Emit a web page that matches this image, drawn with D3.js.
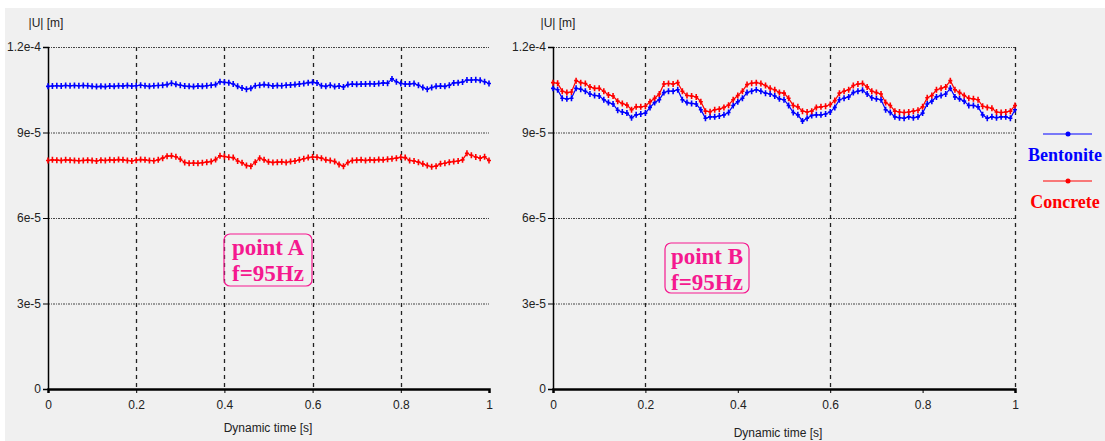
<!DOCTYPE html>
<html><head><meta charset="utf-8">
<script src="https://cdn.jsdelivr.net/npm/d3@7"></script>
<style>
html,body{margin:0;padding:0;background:#fff;}
svg{display:block;}
</style></head>
<body>
<svg id="chart" width="1105" height="441"></svg>
<script>
// time samples [s]
const time = [0.00,0.01,0.02,0.03,0.04,0.05,0.06,0.07,0.08,0.09,0.10,0.11,0.12,0.13,0.14,0.15,0.16,0.17,0.18,0.19,
0.20,0.21,0.22,0.23,0.24,0.25,0.26,0.27,0.28,0.29,0.30,0.31,0.32,0.33,0.34,0.35,0.36,0.37,0.38,0.39,
0.40,0.41,0.42,0.43,0.44,0.45,0.46,0.47,0.48,0.49,0.50,0.51,0.52,0.53,0.54,0.55,0.56,0.57,0.58,0.59,
0.60,0.61,0.62,0.63,0.64,0.65,0.66,0.67,0.68,0.69,0.70,0.71,0.72,0.73,0.74,0.75,0.76,0.77,0.78,0.79,
0.80,0.81,0.82,0.83,0.84,0.85,0.86,0.87,0.88,0.89,0.90,0.91,0.92,0.93,0.94,0.95,0.96,0.97,0.98,0.99,1.00];

// |U| values in units of 1e-5 m
const bentoniteA = [10.62,10.63,10.64,10.63,10.65,10.64,10.65,10.64,10.65,10.64,10.62,10.61,10.62,10.61,10.63,10.62,10.64,10.63,10.65,10.63,
10.64,10.66,10.64,10.62,10.64,10.65,10.66,10.68,10.73,10.69,10.66,10.63,10.62,10.61,10.63,10.62,10.64,10.66,10.68,10.78,
10.76,10.75,10.70,10.62,10.56,10.52,10.55,10.64,10.66,10.68,10.66,10.63,10.65,10.64,10.66,10.67,10.68,10.70,10.72,10.75,
10.76,10.74,10.64,10.62,10.66,10.61,10.63,10.60,10.68,10.70,10.69,10.70,10.70,10.71,10.70,10.72,10.74,10.73,10.88,10.78,
10.72,10.70,10.70,10.72,10.66,10.58,10.52,10.58,10.62,10.63,10.62,10.66,10.74,10.75,10.77,10.84,10.84,10.85,10.83,10.78,10.72];

const concreteA = [8.02,8.04,8.03,8.02,8.04,8.03,8.02,8.01,8.02,8.03,8.02,8.00,8.03,8.02,8.04,8.03,8.05,8.04,8.02,8.00,
8.03,8.05,8.04,8.02,8.01,8.04,8.10,8.17,8.18,8.15,8.06,7.95,7.92,7.93,7.92,7.94,7.96,7.98,8.05,8.18,
8.16,8.13,8.12,8.00,7.94,7.84,7.82,7.96,8.10,8.04,7.97,7.95,7.96,7.97,7.95,7.98,8.00,8.04,8.08,8.12,
8.14,8.13,8.10,8.04,8.02,7.98,7.88,7.82,7.95,8.02,8.03,8.04,8.02,8.04,8.03,8.05,8.04,8.06,8.08,8.10,
8.13,8.12,8.02,8.00,7.96,7.90,7.84,7.80,7.82,7.90,7.92,7.96,7.98,8.00,8.04,8.27,8.20,8.14,8.10,8.15,8.02];

const bentoniteB = [10.55,10.50,10.20,10.18,10.20,10.55,10.52,10.45,10.35,10.30,10.28,10.15,10.05,10.00,9.78,9.72,9.68,9.52,9.62,9.65,
9.68,9.88,10.05,10.15,10.40,10.45,10.45,10.50,10.15,10.05,10.02,10.00,9.80,9.50,9.55,9.55,9.58,9.62,9.70,9.95,
10.08,10.20,10.40,10.45,10.50,10.45,10.38,10.35,10.28,10.18,10.15,9.95,9.70,9.62,9.40,9.50,9.60,9.62,9.62,9.65,
9.72,9.88,10.15,10.20,10.25,10.40,10.45,10.48,10.35,10.22,10.18,10.15,9.80,9.70,9.55,9.52,9.50,9.55,9.52,9.55,
9.68,10.00,10.10,10.25,10.30,10.35,10.55,10.25,10.18,10.10,9.95,9.95,9.90,9.62,9.50,9.55,9.52,9.55,9.55,9.50,9.80];

const concreteB = [10.75,10.73,10.45,10.40,10.42,10.82,10.75,10.72,10.60,10.55,10.55,10.45,10.32,10.28,10.10,10.02,9.96,9.80,9.90,9.90,
9.92,10.08,10.20,10.35,10.70,10.72,10.70,10.75,10.45,10.30,10.28,10.25,10.08,9.75,9.73,9.80,9.82,9.88,9.96,10.15,
10.30,10.45,10.68,10.73,10.75,10.72,10.65,10.55,10.50,10.40,10.38,10.20,9.95,9.90,9.75,9.72,9.75,9.88,9.90,9.92,
9.98,10.12,10.38,10.45,10.50,10.65,10.70,10.72,10.60,10.45,10.40,10.35,10.05,9.95,9.75,9.72,9.70,9.72,9.75,9.78,
9.90,10.22,10.30,10.50,10.55,10.60,10.82,10.50,10.40,10.30,10.20,10.18,10.15,9.92,9.88,9.85,9.72,9.70,9.72,9.75,9.95];

const xTicks = [0, 0.2, 0.4, 0.6, 0.8, 1];
const xTickLabels = ["0", "0.2", "0.4", "0.6", "0.8", "1"];
const yTicks = [0, 3, 6, 9, 12];
const yTickLabels = ["0", "3e-5", "6e-5", "9e-5", "1.2e-4"];
const seriesNames = ["Bentonite", "Concrete"];
const seriesColors = ["#0000ff", "#ff0000"];
const notesA = ["point A", "f=95Hz"];
const notesB = ["point B", "f=95Hz"];
const yTitle = "|U| [m]";
const xTitle = "Dynamic time [s]";

const SANS = "Liberation Sans, Arial, sans-serif";
const SERIF = "Liberation Serif, Times New Roman, serif";

const svg = d3.select("#chart");
svg.append("rect").attr("x", 5).attr("y", 8).attr("width", 1100).attr("height", 433).attr("fill", "#f0f0f0");

function panel(cfg) {
  const x = d3.scaleLinear().domain([0, 1]).range([cfg.x0, cfg.x1]);
  const y = d3.scaleLinear().domain([0, 12]).range([389, 47]);
  const g = svg.append("g");

  // horizontal grid
  g.selectAll(".hg").data(yTicks.filter(v => v > 0)).enter().append("line")
    .attr("x1", cfg.x0).attr("x2", cfg.x1)
    .attr("y1", d => y(d) + 0.5).attr("y2", d => y(d) + 0.5)
    .attr("stroke", "#444").attr("stroke-width", 1).attr("stroke-dasharray", "2,1,1,1");
  // vertical grid
  g.selectAll(".vg").data(cfg.gridX).enter().append("line")
    .attr("x1", d => Math.round(x(d)) + 0.5).attr("x2", d => Math.round(x(d)) + 0.5)
    .attr("y1", 47).attr("y2", 389)
    .attr("stroke", "#222").attr("stroke-width", 1.3).attr("stroke-dasharray", "4,4");

  // y axis
  const ya = g.append("g").attr("transform", `translate(${cfg.x0},0)`)
    .call(d3.axisLeft(y).tickValues(yTicks).tickSize(5).tickPadding(2)
      .tickFormat((d, i) => yTickLabels[i]));
  ya.select(".domain").attr("stroke", "#000").attr("stroke-width", 1.5);
  ya.selectAll("text").attr("font-size", 12).attr("fill", "#222").attr("font-family", SANS);

  // x axis
  const xa = g.append("g").attr("transform", "translate(0,389)")
    .call(d3.axisBottom(x).tickValues(xTicks).tickSize(4).tickPadding(7)
      .tickFormat((d, i) => xTickLabels[i]));
  xa.select(".domain").attr("stroke", "#000").attr("stroke-width", 2.5);
  xa.selectAll("text").attr("font-size", 12).attr("fill", "#222").attr("font-family", SANS);

  // titles
  g.append("text").attr("x", cfg.yTitleX).attr("y", 27).attr("text-anchor", "middle")
    .attr("font-family", SANS).attr("font-size", 12).attr("fill", "#222").text(yTitle);
  g.append("text").attr("x", cfg.xTitleX).attr("y", cfg.xTitleY).attr("text-anchor", "middle")
    .attr("font-family", SANS).attr("font-size", 12).attr("fill", "#222").text(xTitle);

  // series
  const line = d3.line().x((d, i) => x(time[i])).y(d => y(d));
  cfg.series.forEach((s, k) => {
    const col = seriesColors[k];
    g.append("path").datum(s).attr("d", line).attr("fill", "none")
      .attr("stroke", col).attr("stroke-width", 1.2);
    g.selectAll(".m" + k).data(s).enter().append("path")
      .attr("d", (d, i) => {
        const px = x(time[i]), py = y(d);
        return `M${px},${py - 3}V${py + 3}M${px - 2},${py}H${px + 2}`;
      })
      .attr("stroke", col).attr("stroke-width", 1.6).attr("fill", "none");
  });

  // annotation box
  const b = cfg.box;
  g.append("rect").attr("x", b.x).attr("y", b.y).attr("width", b.w).attr("height", b.h)
    .attr("rx", 6).attr("fill", "none").attr("stroke", "#f5198f").attr("stroke-width", 1.2);
  cfg.notes.forEach((t, i) => {
    g.append("text").attr("x", b.x + b.w / 2).attr("y", b.y + 21 + i * 26)
      .attr("text-anchor", "middle").attr("font-family", SERIF)
      .attr("font-weight", "bold").attr("font-size", 23).attr("fill", "#f5198f").text(t);
  });
}

panel({x0: 48, x1: 489, gridX: [0.2, 0.4, 0.6, 0.8], series: [bentoniteA, concreteA],
  yTitleX: 46, xTitleX: 268, xTitleY: 432, notes: notesA, box: {x: 224, y: 234, w: 88, h: 52}});
panel({x0: 553, x1: 1015, gridX: [0.2, 0.6, 1.0], series: [bentoniteB, concreteB],
  yTitleX: 558, xTitleX: 778, xTitleY: 437, notes: notesB, box: {x: 665, y: 243, w: 84, h: 50}});

// legend
const lg = svg.append("g");
seriesNames.forEach((n, i) => {
  const ly = 134 + i * 47;
  lg.append("line").attr("x1", 1043).attr("x2", 1092).attr("y1", ly).attr("y2", ly)
    .attr("stroke", seriesColors[i]).attr("stroke-width", 1.2);
  lg.append("circle").attr("cx", 1068).attr("cy", ly).attr("r", 2.5).attr("fill", seriesColors[i]);
  lg.append("text").attr("x", 1065).attr("y", ly + 27).attr("text-anchor", "middle")
    .attr("font-family", SERIF).attr("font-weight", "bold")
    .attr("font-size", 18).attr("fill", seriesColors[i]).text(n);
});
</script>
</body></html>
